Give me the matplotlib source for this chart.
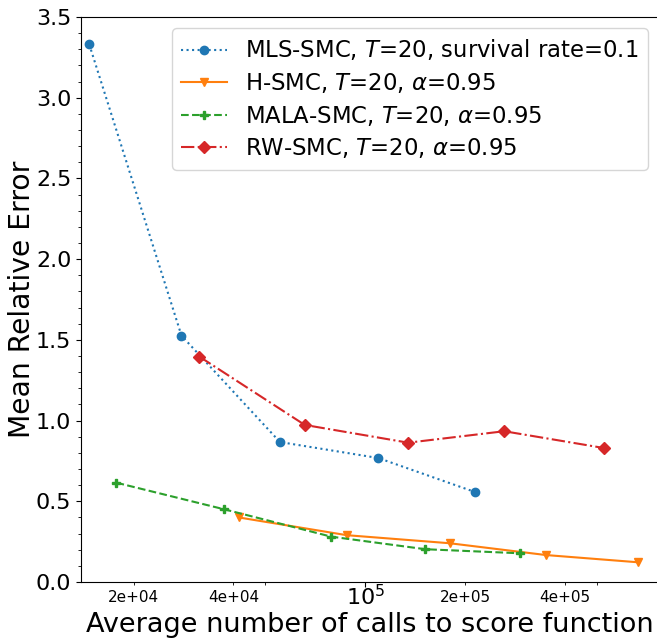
import matplotlib
matplotlib.use("Agg")
import matplotlib.pyplot as plt
from matplotlib.ticker import FixedLocator, FixedFormatter

# average number of score-function calls and mean relative error per sampler
mls_calls = [14700, 27900, 55300, 109500, 214000]
mls_err = [3.33, 1.526, 0.867, 0.768, 0.558]

h_calls = [41500, 88000, 180000, 351000, 667000]
h_err = [0.40, 0.29, 0.24, 0.167, 0.122]

mala_calls = [17760, 37600, 78900, 152000, 293000]
mala_err = [0.615, 0.450, 0.281, 0.203, 0.178]

rw_calls = [31600, 65700, 134800, 262700, 525000]
rw_err = [1.396, 0.973, 0.863, 0.934, 0.830]

minor_ticks = [2e4, 4e4, 5e4, 2e5, 4e5, 5e5]
minor_labels = ["2e+04", "4e+04", "", "2e+05", "4e+05", ""]

fig = plt.figure(figsize=(6.57, 6.41), dpi=100)
ax = fig.add_axes([81 / 657, 59 / 641, 578 / 657, 565 / 641])

ax.plot(mls_calls, mls_err, ls=":", marker="o", color="C0",
        label=r"MLS-SMC, $T$=20, survival rate=0.1")
ax.plot(h_calls, h_err, ls="-", marker="v", color="C1",
        label=r"H-SMC, $T$=20, $\alpha$=0.95")
ax.plot(mala_calls, mala_err, ls="--", marker="P", color="C2",
        label=r"MALA-SMC, $T$=20, $\alpha$=0.95")
ax.plot(rw_calls, rw_err, ls="-.", marker="D", color="C3",
        label=r"RW-SMC, $T$=20, $\alpha$=0.95")

ax.set_xscale("log")
ax.set_xlim(13880, 770000)
ax.set_ylim(0, 3.5)

ax.xaxis.set_minor_locator(FixedLocator(minor_ticks))
ax.xaxis.set_minor_formatter(FixedFormatter(minor_labels))
ax.tick_params(axis="x", which="minor", labelsize=11)
ax.tick_params(axis="both", which="major", labelsize=16)
ax.tick_params(axis="x", which="major", pad=-2)
ax.yaxis.set_minor_locator(FixedLocator([i / 10 for i in range(36)]))

ax.set_xlabel("Average number of calls to score function", fontsize=19.5, labelpad=2)
ax.set_ylabel("Mean Relative Error", fontsize=20.3, labelpad=0)

ax.legend(loc="upper right", fontsize=16.4, labelspacing=0.38)

fig.savefig("out.png", dpi=100)
